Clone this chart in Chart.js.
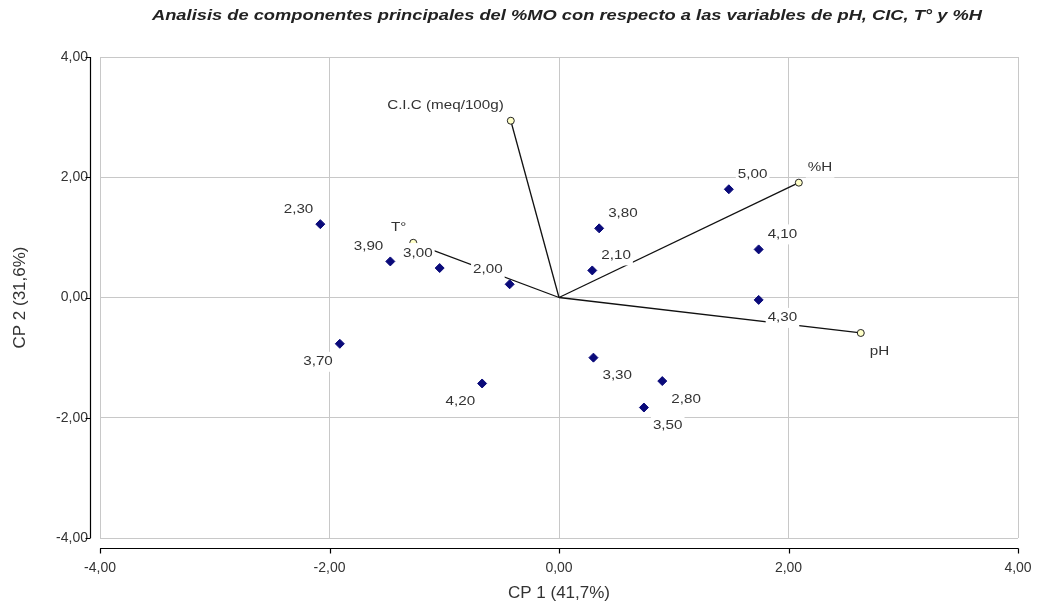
<!DOCTYPE html>
<html><head><meta charset="utf-8">
<script src="https://cdn.jsdelivr.net/npm/chart.js@4/dist/chart.umd.min.js"></script>
<style>html,body{margin:0;padding:0;background:#fff}#wrap{width:1039px;height:607px;position:relative}</style>
</head><body><div id="wrap"><canvas id="c"></canvas></div>
<script>
// ---- data ----
const titleText = 'Analisis de componentes principales del %MO con respecto a las variables de pH, CIC, T° y %H';
const xTitle = 'CP 1 (41,7%)';
const yTitle = 'CP 2 (31,6%)';
const axisMin = -4, axisMax = 4, axisStep = 2;
const obsLabels = ['2,30','3,90','3,00','2,00','3,70','4,20','2,10','3,80','5,00','4,10','4,30','3,30','2,80','3,50'];
const obsCP1 = [-2.08,-1.47,-1.04,-0.43,-1.91,-0.67,0.29,0.35,1.48,1.74,1.74,0.30,0.90,0.74];
const obsCP2 = [1.22,0.60,0.49,0.22,-0.77,-1.43,0.45,1.15,1.80,0.80,-0.04,-1.00,-1.39,-1.83];
const varLabels = ['C.I.C (meq/100g)','%H','pH','T°'];
const varCP1 = [-0.42,2.09,2.63,-1.27];
const varCP2 = [2.94,1.91,-0.59,0.91];

// ---- styles ----
const FONT = "'Liberation Sans', Arial, sans-serif";
const TEXT_STRETCH = 1.17;
const fmt = v => Number(v).toFixed(2).replace('.', ',');

const datasets = [{
  label: 'obs',
  data: obsCP1.map((x, i) => ({x, y: obsCP2[i]})),
  pointStyle: 'rectRot', pointRadius: 4.5, pointHoverRadius: 4.5,
  backgroundColor: '#0a0a7a', borderColor: '#0a0a7a', borderWidth: 1,
  showLine: false
}];
varLabels.forEach((name, i) => {
  datasets.push({
    label: name,
    data: [{x: 0, y: 0}, {x: varCP1[i], y: varCP2[i]}],
    showLine: true, borderColor: '#111', borderWidth: 1.3,
    pointRadius: [0, 3.5], pointHoverRadius: [0, 3.5],
    pointBackgroundColor: '#ffffc8', pointBorderColor: '#222', pointBorderWidth: 1
  });
});

function drawLabel(ctx, text, px, py, right, down) {
  ctx.font = '13px ' + FONT;
  const w = ctx.measureText(text).width * TEXT_STRETCH;
  const cy = down ? py + 18 : py - 15;
  const x0 = right ? px + 9 : px - 7 - w;
  ctx.fillStyle = '#fff';
  ctx.fillRect(x0 - 2, cy - 10, w + 4, 20);
  ctx.save();
  ctx.translate(x0, cy);
  ctx.scale(TEXT_STRETCH, 1);
  ctx.fillStyle = '#333';
  ctx.textAlign = 'left';
  ctx.textBaseline = 'middle';
  ctx.fillText(text, 0, 0);
  ctx.restore();
}

const labelPlugin = {
  id: 'pcaLabels',
  afterDatasetsDraw(chart) {
    const ctx = chart.ctx;
    ctx.save();
    const m0 = chart.getDatasetMeta(0);
    m0.data.forEach((el, i) => {
      drawLabel(ctx, obsLabels[i], el.x, el.y, obsCP1[i] >= 0, obsCP2[i] < 0);
    });
    varLabels.forEach((name, i) => {
      const el = chart.getDatasetMeta(i + 1).data[1];
      drawLabel(ctx, name, el.x, el.y, varCP1[i] >= 0, varCP2[i] < 0);
    });
    ctx.restore();
  }
};

const framePlugin = {
  id: 'axisFrame',
  afterDraw(chart) {
    const ctx = chart.ctx, a = chart.chartArea;
    const xs = chart.scales.x, ys = chart.scales.y;
    ctx.save();
    ctx.strokeStyle = '#000';
    ctx.lineWidth = 1.2;
    const yb = Math.round(a.bottom) + 10.5;
    const xl = Math.round(a.left) - 9.5;
    ctx.beginPath();
    ctx.moveTo(a.left, yb); ctx.lineTo(a.right + 0.5, yb);
    xs.ticks.forEach(t => { const p = Math.round(xs.getPixelForValue(t.value)) + 0.5; ctx.moveTo(p, yb); ctx.lineTo(p, yb + 5); });
    ctx.moveTo(xl, a.top); ctx.lineTo(xl, a.bottom);
    ys.ticks.forEach(t => { const p = Math.round(ys.getPixelForValue(t.value)) + 0.5; ctx.moveTo(xl, p); ctx.lineTo(xl - 5, p); });
    ctx.stroke();
    // title
    ctx.translate(567, 20);
    ctx.scale(1.22, 1);
    ctx.font = 'italic bold 15px ' + FONT;
    ctx.fillStyle = '#222';
    ctx.textAlign = 'center';
    ctx.textBaseline = 'alphabetic';
    ctx.fillText(titleText, 0, 0);
    ctx.restore();
  }
};

new Chart(document.getElementById('c'), {
  type: 'scatter',
  data: {datasets},
  options: {
    responsive: true, maintainAspectRatio: false, animation: false,
    events: [],
    layout: {padding: {top: 57, right: 21, left: 0, bottom: 0}},
    plugins: {legend: {display: false}, tooltip: {enabled: false}, title: {display: false}},
    scales: {
      x: {
        type: 'linear', min: axisMin, max: axisMax,
        ticks: {stepSize: axisStep, callback: fmt, padding: 22, color: '#333', font: {family: FONT, size: 14}},
        grid: {color: '#c8c8c8', drawTicks: false, lineWidth: 1},
        border: {display: false},
        title: {display: true, text: xTitle, color: '#333', font: {family: FONT, size: 17}, padding: {top: 0, bottom: 3}},
        afterFit: s => { s.height = 69; s.paddingLeft = 0; s.paddingRight = 0; }
      },
      y: {
        type: 'linear', min: axisMin, max: axisMax,
        ticks: {stepSize: axisStep, callback: fmt, padding: 12, color: '#333', font: {family: FONT, size: 14}},
        grid: {color: '#c8c8c8', drawTicks: false, lineWidth: 1},
        border: {display: false},
        title: {display: true, text: yTitle, color: '#333', font: {family: FONT, size: 17}, padding: {top: 10, bottom: 0}},
        afterFit: s => { s.width = 100; s.paddingTop = 0; s.paddingBottom = 0; }
      }
    }
  },
  plugins: [labelPlugin, framePlugin]
});
</script></body></html>
